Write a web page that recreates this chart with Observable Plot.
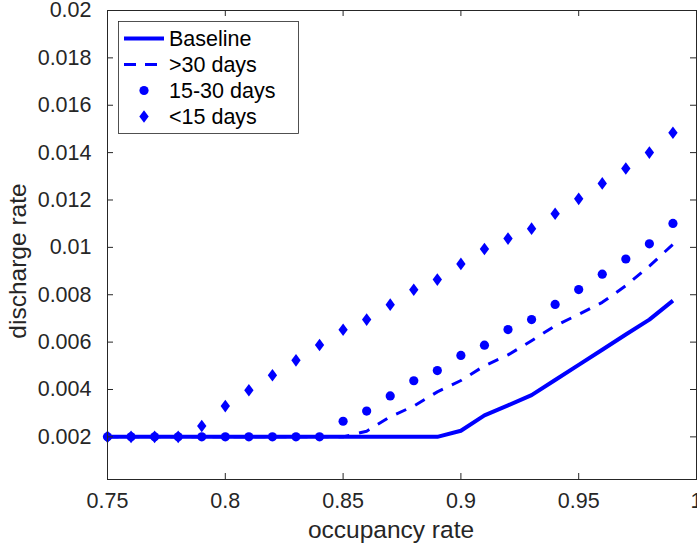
<!DOCTYPE html>
<html>
<head>
<meta charset="utf-8">
<script src="https://cdn.jsdelivr.net/npm/d3@7"></script>
<script src="https://cdn.jsdelivr.net/npm/@observablehq/plot@0.6"></script>
<style>
  html, body { margin: 0; padding: 0; background: #fff; }
  #chart svg { display: block; }
</style>
</head>
<body>
<div id="chart"></div>
<script>
// ---- data ----
const occupancy = [0.75,0.76,0.77,0.78,0.79,0.80,0.81,0.82,0.83,0.84,0.85,0.86,0.87,0.88,0.89,0.90,0.91,0.92,0.93,0.94,0.95,0.96,0.97,0.98,0.99];
const baseline = [0.002,0.002,0.002,0.002,0.002,0.002,0.002,0.002,0.002,0.002,0.002,0.002,0.002,0.002,0.002,
  0.00226,0.00291,0.00333,0.00376,0.0044,0.00504,0.00568,0.00632,0.00695,0.00775];
const over30 = [0.002,0.002,0.002,0.002,0.002,0.002,0.002,0.002,0.002,0.002,0.002,
  0.00224,0.00285,0.0033,0.0039,0.00438,0.005,0.00546,0.00606,0.00669,0.00717,0.00768,0.00838,0.00921,0.01013];
const days15to30 = [0.002,0.002,0.002,0.002,0.002,0.002,0.002,0.002,0.002,0.002,
  0.00266,0.00309,0.00373,0.00437,0.0048,0.00544,0.00587,0.00653,0.00695,0.00759,0.00822,0.00887,0.00951,0.01015,0.01101];
const under15 = [0.002,0.002,0.002,0.002,
  0.00246,0.0033,0.00397,0.0046,0.00523,0.00588,0.00652,0.00695,0.00758,0.00821,0.00864,0.0093,0.00993,0.01037,0.01079,0.01142,0.01205,0.0127,0.01333,0.014,0.01484];
const seriesNames = ["Baseline", ">30 days", "15-30 days", "<15 days"];
const xTicks = [0.75, 0.8, 0.85, 0.9, 0.95, 1];
const xTickLabels = ["0.75", "0.8", "0.85", "0.9", "0.95", "1"];
const yTicks = [0.002, 0.004, 0.006, 0.008, 0.01, 0.012, 0.014, 0.016, 0.018, 0.02];
const yTickLabels = ["0.002", "0.004", "0.006", "0.008", "0.01", "0.012", "0.014", "0.016", "0.018", "0.02"];
const xLabel = "occupancy rate";
const yLabel = "discharge rate";

// ---- layout / style ----
const W = 697, H = 548;
const mL = 107, mR = 1, mT = 10, mB = 69;
const plotW = W - mL - mR, plotH = H - mT - mB;
const blue = "#0000ff";
const ink = "#262626";
const font = "'Liberation Sans', Arial, Helvetica, sans-serif";
const tickLen = 6;

const diamond = {
  draw(context, size) {
    const r = Math.sqrt(size / Math.PI);
    const w = r * 0.85, h = r * 1.15;
    context.moveTo(0, -h);
    context.lineTo(w, 0);
    context.lineTo(0, h);
    context.lineTo(-w, 0);
    context.closePath();
  }
};

const rows = occupancy.map((x, i) => ({
  x, baseline: baseline[i], over30: over30[i], mid: days15to30[i], under: under15[i]
}));

const svg = Plot.plot({
  width: W, height: H,
  marginLeft: mL, marginRight: mR, marginTop: mT, marginBottom: mB,
  style: { fontFamily: font, color: ink, background: "white", overflow: "visible" },
  x: { domain: [0.75, 1] },
  y: { domain: [0.0002, 0.02] },
  marks: [
    Plot.lineY(rows, { x: "x", y: "baseline", stroke: blue, strokeWidth: 4, strokeLinecap: "butt" }),
    Plot.lineY(rows, { x: "x", y: "over30", stroke: blue, strokeWidth: 3, strokeDasharray: "11,10", strokeLinecap: "butt" }),
    Plot.dot(rows, { x: "x", y: "mid", r: 4.6, fill: blue, stroke: null }),
    Plot.dot(rows, { x: "x", y: "under", r: 5.5, fill: blue, stroke: null, symbol: diamond }),
    Plot.frame({ stroke: ink, strokeWidth: 1 }),
    // inward ticks (bottom/top, left/right)
    Plot.tickX(xTicks, { x: d => d, stroke: ink, strokeWidth: 1, insetTop: plotH - tickLen }),
    Plot.tickX(xTicks, { x: d => d, stroke: ink, strokeWidth: 1, insetBottom: plotH - tickLen }),
    Plot.tickY(yTicks, { y: d => d, stroke: ink, strokeWidth: 1, insetRight: plotW - tickLen }),
    Plot.tickY(yTicks, { y: d => d, stroke: ink, strokeWidth: 1, insetLeft: plotW - tickLen }),
    Plot.axisX(xTicks, { tickSize: 0, tickPadding: 13, fontSize: 21.5, label: null,
      tickFormat: d => xTickLabels[xTicks.indexOf(d)] }),
    Plot.axisY(yTicks, { tickSize: 0, tickPadding: 16, fontSize: 21.5, label: null,
      tickFormat: d => yTickLabels[yTicks.indexOf(d)] }),
    Plot.text([xLabel], { text: d => d, frameAnchor: "bottom", textAnchor: "middle", lineAnchor: "middle",
      dx: -11, dy: 51, fontSize: 24.5, fill: ink }),
    Plot.text([yLabel], { text: d => d, frameAnchor: "left", textAnchor: "middle", lineAnchor: "middle",
      dx: -89.5, dy: 16, rotate: -90, fontSize: 24.5, fill: ink })
  ]
});

// ---- legend (inside plot, top-left) ----
const s = d3.select(svg);
const lg = s.append("g").attr("font-family", font).attr("font-size", 21.5).attr("text-anchor", "start");
lg.append("rect").attr("x", 118.5).attr("y", 21.5).attr("width", 180).attr("height", 112)
  .attr("fill", "white").attr("stroke", ink).attr("stroke-width", 0.8);
const rowY = [38.5, 64.5, 90.5, 116.5];
lg.append("line").attr("x1", 124).attr("x2", 164).attr("y1", rowY[0]).attr("y2", rowY[0])
  .attr("stroke", blue).attr("stroke-width", 4);
lg.append("line").attr("x1", 124).attr("x2", 164).attr("y1", rowY[1]).attr("y2", rowY[1])
  .attr("stroke", blue).attr("stroke-width", 3).attr("stroke-dasharray", "12,9");
lg.append("circle").attr("cx", 144).attr("cy", rowY[2]).attr("r", 4.6).attr("fill", blue);
lg.append("path").attr("transform", `translate(144,${rowY[3]})`)
  .attr("d", d3.symbol(diamond, 5.5 * 5.5 * Math.PI)()).attr("fill", blue);
seriesNames.forEach((name, i) => {
  lg.append("text").attr("x", 169).attr("y", rowY[i]).attr("dy", "0.35em")
    .attr("text-anchor", "start").attr("fill", "#000").text(name);
});

document.getElementById("chart").appendChild(svg);
</script>
</body>
</html>
